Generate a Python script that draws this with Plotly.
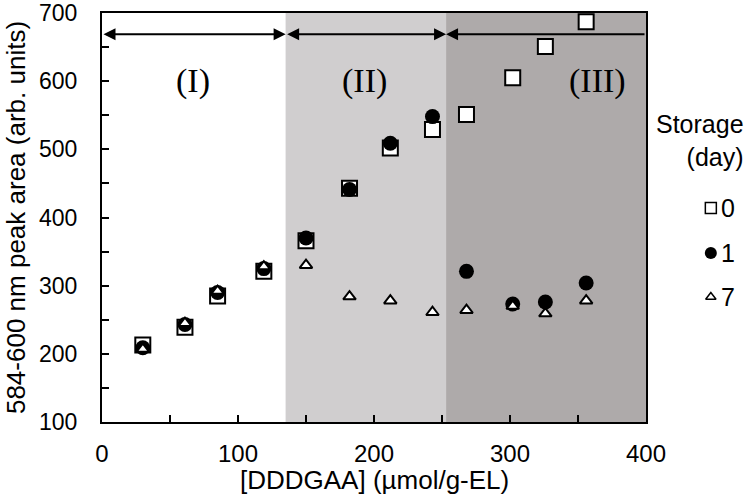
import plotly.graph_objects as go

# ---- data ----
conc = [30, 61, 85, 119, 150, 182, 212, 243, 268, 302, 326, 356]
day0 = [213, 239, 285, 321, 366, 443, 502, 529, 551, 605, 651, 687]
day1 = [209, 243, 290, 325, 370, 441, 509, 548, 321, 273, 276, 304]
day7 = [207, 245, 292, 328, 330, 284, 278, 261, 264, 270, 259, 278]

region_bounds = [0, 135, 253, 400]
region_labels = ["(I)", "(II)", "(III)"]
region_label_x = [67, 193, 364]
region_label_y = 600
arrow_y = 669

legend_title = "Storage<br>(day)"
legend_labels = ["0", "1", "7"]

x_ticks = [0, 100, 200, 300, 400]
y_ticks = [100, 200, 300, 400, 500, 600, 700]

FONT = "Liberation Sans, Arial, sans-serif"
SERIF = "Liberation Serif, Times New Roman, serif"

W, H = 750, 502
ml, mr, mt, mb = 102, 0, 13, 80
pw = W - ml - mr
ph = H - mt - mb


def py(pix):
    """pixel row -> paper y"""
    return (H - mb - pix) / ph


def px(pix):
    """pixel column -> paper x"""
    return (pix - ml) / pw


legend_y = [py(208), py(253), py(297)]

fig = go.Figure()

# series
fig.add_trace(go.Scatter(x=conc, y=day0, mode="markers", name="0",
                         marker=dict(symbol="square", size=15, color="white",
                                     line=dict(color="black", width=2)),
                         cliponaxis=False, showlegend=False))
fig.add_trace(go.Scatter(x=conc, y=day1, mode="markers", name="1",
                         marker=dict(symbol="circle", size=15, color="black",
                                     line=dict(color="black", width=0)),
                         cliponaxis=False, showlegend=False))
fig.add_trace(go.Scatter(x=conc, y=day7, mode="markers", name="7",
                         marker=dict(symbol="triangle-up", size=11, color="white",
                                     line=dict(color="black", width=2)),
                         cliponaxis=False, showlegend=False))

# manual legend markers
leg_styles = [
    dict(symbol="square", size=11, color="white", line=dict(color="black", width=1.5)),
    dict(symbol="circle", size=12, color="black", line=dict(color="black", width=0)),
    dict(symbol="triangle-up", size=9, color="white", line=dict(color="black", width=1.5)),
]
for ly, st in zip(legend_y, leg_styles):
    fig.add_trace(go.Scatter(x=[0.61], y=[ly], mode="markers", marker=st,
                             xaxis="x2", yaxis="y2", showlegend=False,
                             hoverinfo="skip", cliponaxis=False))

# shaded regions
shade_colors = ["rgba(0,0,0,0)", "#d0cecf", "#aeaaaa"]
for i in range(3):
    fig.add_shape(type="rect", xref="x", yref="paper",
                  x0=region_bounds[i], x1=region_bounds[i + 1], y0=0, y1=1,
                  fillcolor=shade_colors[i], line=dict(width=0), layer="below")

# arrows
for i in range(3):
    side = "end+start" if i < 2 else "end"
    if i < 2:
        x_tip, x_tail = region_bounds[i + 1], region_bounds[i]
    else:
        x_tip, x_tail = region_bounds[i], region_bounds[i + 1]
    fig.add_annotation(x=x_tip, y=arrow_y, ax=x_tail, ay=arrow_y,
                       xref="x", yref="y", axref="x", ayref="y",
                       text="", showarrow=True, arrowhead=2, arrowside=side,
                       arrowsize=1.2, arrowwidth=2, arrowcolor="black")

# region labels
for lab, lx in zip(region_labels, region_label_x):
    fig.add_annotation(x=lx, y=region_label_y, xref="x", yref="y", text=lab,
                       showarrow=False, font=dict(family=SERIF, size=34, color="black"))

# legend text
fig.add_annotation(x=px(746), y=py(140), xref="paper", yref="paper",
                   text=legend_title, showarrow=False, xanchor="right", yanchor="middle",
                   align="right", font=dict(family=FONT, size=25, color="black"))
for ly, lab in zip(legend_y, legend_labels):
    fig.add_annotation(x=px(719), y=ly, xref="paper", yref="paper",
                       text=lab, showarrow=False, xanchor="left", yanchor="middle",
                       font=dict(family=FONT, size=25, color="black"))

# x axis title
fig.add_annotation(x=0.5 * px(646), y=py(480), xref="paper", yref="paper",
                   text="[DDDGAA] (µmol/g-EL)", showarrow=False,
                   xanchor="center", yanchor="middle",
                   font=dict(family=FONT, size=26, color="black"))

fig.update_layout(
    width=W, height=H,
    margin=dict(l=ml, r=mr, t=mt, b=mb, autoexpand=False),
    paper_bgcolor="white", plot_bgcolor="white",
    font=dict(family=FONT, size=25, color="black"),
    xaxis=dict(domain=[0, px(646)], range=[0, 400], tickvals=x_ticks,
               ticks="inside", ticklen=7, tickwidth=1.5, tickcolor="black",
               minor=dict(dtick=50, ticks="inside", ticklen=7, tickwidth=1.5, tickcolor="black"),
               showline=True, linecolor="black", linewidth=2, mirror=True,
               showgrid=False, zeroline=False, ticklabelstandoff=9,
               automargin=False, ticklabeloverflow="allow",
               tickfont=dict(family=FONT, size=24, color="black")),
    yaxis=dict(domain=[0, 1], range=[100, 700], tickvals=y_ticks,
               ticks="inside", ticklen=7, tickwidth=1.5, tickcolor="black",
               minor=dict(dtick=50, ticks="inside", ticklen=7, tickwidth=1.5, tickcolor="black"),
               showline=True, linecolor="black", linewidth=2, mirror=True,
               showgrid=False, zeroline=False, ticklabelstandoff=18,
               automargin=False, ticklabeloverflow="allow",
               tickfont=dict(family=FONT, size=23, color="black"),
               title=dict(text="584-600 nm peak area (arb. units)", standoff=6,
                          font=dict(family=FONT, size=26, color="black"))),
    xaxis2=dict(domain=[px(649.6), 1], range=[0, 1], anchor="y2",
                visible=False, fixedrange=True),
    yaxis2=dict(domain=[0, 1], range=[0, 1], anchor="x2", visible=False,
                fixedrange=True),
)

fig.write_html("out.html")
